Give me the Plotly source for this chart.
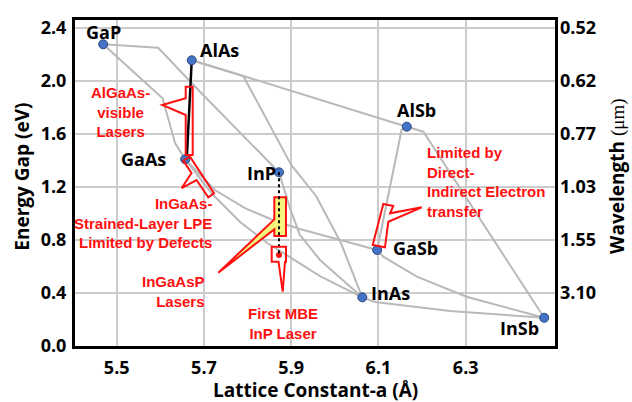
import plotly.graph_objects as go

# ---------------- data ----------------
compounds = ["GaP", "AlAs", "GaAs", "InP", "AlSb", "GaSb", "InAs", "InSb"]
lattice = [5.469, 5.672, 5.657, 5.872, 6.165, 6.097, 6.063, 6.480]
gap = [2.275, 2.154, 1.407, 1.309, 1.653, 0.722, 0.365, 0.211]

# ternary curves (lattice constant, energy gap)
gaasp_x = [5.469, 5.605, 5.634, 5.657]
gaasp_e = [2.275, 1.867, 1.528, 1.407]
gainp_x = [5.469, 5.595, 5.691, 5.783, 5.872]
gainp_e = [2.275, 2.249, 1.917, 1.605, 1.309]
algaas_x = [5.672, 5.670, 5.661, 5.657]
algaas_e = [2.154, 2.005, 1.439, 1.407]
alassb_x = [5.672, 5.790, 6.165]
alassb_e = [2.154, 2.036, 1.653]
alinas_x = [5.672, 5.790, 5.847, 5.900, 5.957, 6.014, 6.063]
alinas_e = [2.154, 2.036, 1.688, 1.364, 1.130, 0.775, 0.365]
inasp_x = [5.872, 5.881, 5.897, 5.920, 5.966, 6.023, 6.063]
inasp_e = [1.309, 1.213, 1.039, 0.836, 0.647, 0.481, 0.365]
ingaas_x = [5.657, 5.719, 5.783, 5.845, 5.897, 5.966, 6.063]
ingaas_e = [1.407, 1.145, 0.934, 0.775, 0.669, 0.526, 0.365]
gaassb_x = [5.657, 5.691, 5.725, 5.794, 5.863, 5.920, 5.989, 6.097]
gaassb_e = [1.407, 1.288, 1.175, 1.039, 0.941, 0.881, 0.820, 0.722]
algasb_x = [6.165, 6.153, 6.097]
algasb_e = [1.653, 1.628, 0.722]
alinsb_x = [6.165, 6.203, 6.480]
alinsb_e = [1.653, 1.615, 0.211]
gainsb_x = [6.097, 6.111, 6.188, 6.302, 6.480]
gainsb_e = [0.722, 0.672, 0.521, 0.370, 0.211]
inassb_x = [6.063, 6.092, 6.264, 6.480]
inassb_e = [0.365, 0.330, 0.262, 0.211]

mbe_laser_x = [5.872]
mbe_laser_e = [0.6845]

x_ticks = [5.5, 5.7, 5.9, 6.1, 6.3]
x_ticklabels = ["5.5", "5.7", "5.9", "6.1", "6.3"]
e_ticks = [0.0, 0.4, 0.8, 1.2, 1.6, 2.0, 2.4]
e_ticklabels = ["0.0", "0.4", "0.8", "1.2", "1.6", "2.0", "2.4"]
wl_ticks = [0.4, 0.8, 1.2, 1.6, 2.0, 2.4]
wl_ticklabels = ["3.10", "1.55", "1.03", "0.77", "0.62", "0.52"]

# ---------------- figure ----------------
GRAY = "#b9b9b9"
RED = "#ff1010"
fig = go.Figure()

gray_curves = [
    (gaasp_x, gaasp_e), (gainp_x, gainp_e), (alassb_x, alassb_e),
    (alinas_x, alinas_e), (inasp_x, inasp_e), (ingaas_x, ingaas_e),
    (gaassb_x, gaassb_e), (algasb_x, algasb_e), (alinsb_x, alinsb_e),
    (gainsb_x, gainsb_e), (inassb_x, inassb_e),
]
for cx, ce in gray_curves:
    fig.add_trace(go.Scatter(x=cx, y=ce, mode="lines",
                             line=dict(color=GRAY, width=2),
                             hoverinfo="skip", showlegend=False))

fig.add_trace(go.Scatter(x=algaas_x, y=algaas_e, mode="lines",
                         line=dict(color="black", width=2.5),
                         showlegend=False))

fig.add_trace(go.Scatter(x=mbe_laser_x, y=mbe_laser_e, mode="markers",
                         marker=dict(size=6, color=RED), showlegend=False))

fig.add_trace(go.Scatter(x=lattice, y=gap, mode="markers",
                         marker=dict(size=9, color="#4472c4",
                                     line=dict(color="#2b4a7d", width=1)),
                         showlegend=False))

# dummy trace for the right axis
fig.add_trace(go.Scatter(x=[None], y=[None], yaxis="y2", showlegend=False))


def path(pts):
    return "M " + " L ".join(f"{px},{py}" for px, py in pts) + " Z"


shapes = []
# AlGaAs visible lasers callout
shapes.append(dict(type="path", xref="x", yref="y", layer="above",
                   path=path([(5.6582, 1.9547), (5.6742, 1.9547), (5.6742, 1.4392),
                              (5.6582, 1.4392), (5.6582, 1.7411), (5.6045, 1.8166),
                              (5.6582, 1.8672)]),
                   line=dict(color=RED, width=2)))
# InGaAs strained layer callout
shapes.append(dict(type="path", xref="x", yref="y", layer="above",
                   path=path([(5.6527, 1.3962), (5.668, 1.4264), (5.723, 1.1502),
                              (5.71, 1.12), (5.6829, 1.2506), (5.649, 1.1902),
                              (5.6715, 1.3034)]),
                   line=dict(color=RED, width=2)))
# InGaAsP lasers callout (yellow)
shapes.append(dict(type="path", xref="x", yref="y", layer="above",
                   path=path([(5.8613, 1.12), (5.8881, 1.12), (5.8881, 0.8279),
                              (5.8613, 0.8279), (5.8613, 0.8781), (5.7329, 0.551),
                              (5.8613, 0.9536)]),
                   fillcolor="#f4f47c", line=dict(color=RED, width=2)))
# dotted lattice-matched line from InP
shapes.append(dict(type="line", xref="x", yref="y", layer="above",
                   x0=lattice[3], y0=gap[3], x1=mbe_laser_x[0], y1=mbe_laser_e[0],
                   line=dict(color="black", width=2, dash="dot")))
# First MBE InP laser callout
shapes.append(dict(type="path", xref="x", yref="y", layer="above",
                   path=path([(5.8553, 0.7472), (5.8881, 0.7472), (5.8881, 0.634),
                              (5.8858, 0.634), (5.8805, 0.4076), (5.8709, 0.634),
                              (5.8553, 0.634)]),
                   line=dict(color=RED, width=2)))
# Direct-indirect callout
shapes.append(dict(type="path", xref="x", yref="y", layer="above",
                   path=path([(6.0868, 0.76), (6.1111, 1.0694), (6.134, 1.0543),
                              (6.1265, 0.9992), (6.1992, 1.0445), (6.1226, 0.9359),
                              (6.115, 0.7426)]),
                   line=dict(color=RED, width=2)))

LBL = dict(family="Open Sans", size=18, color="black", weight="bold")
REDF = dict(family="Liberation Sans", size=15, color=RED, weight="bold")

annotations = []
label_pos = {
    "GaP": (5.4693, 2.37, "center"),
    "AlAs": (5.7352, 2.232, "center"),
    "GaAs": (5.561, 1.407, "center"),
    "InP": (5.8319, 1.306, "center"),
    "AlSb": (6.1868, 1.779, "center"),
    "GaSb": (6.1838, 0.735, "center"),
    "InAs": (6.1283, 0.40, "center"),
    "InSb": (6.424, 0.131, "center"),
}
for name in compounds:
    lx, ly, anc = label_pos[name]
    annotations.append(dict(x=lx, y=ly, xref="x", yref="y", text=name,
                            showarrow=False, font=LBL, xanchor=anc, yanchor="middle"))

red_texts = [
    ("AlGaAs-<br>visible<br>Lasers", 5.5076, 1.764, "center"),
    ("InGaAs-<br>Strained-Layer LPE<br>Limited by Defects", 5.723, 0.926, "right"),
    ("InGaAsP<br>Lasers", 5.7081, 0.413, "right"),
    ("First MBE<br>InP Laser", 5.8812, 0.169, "center"),
    ("Limited by<br>Direct-<br>Indirect Electron<br>transfer", 6.2067, 1.238, "left"),
]
for t, tx, ty, anc in red_texts:
    annotations.append(dict(x=tx, y=ty, xref="x", yref="y", text=t, showarrow=False,
                            font=REDF, xanchor=anc, yanchor="middle", align=anc))

TITLE = dict(family="Open Sans", size=19, color="black", weight="bold")
annotations.append(dict(x=-0.11, y=0.52, xref="paper", yref="paper",
                        text="Energy Gap (eV)", textangle=-90, showarrow=False,
                        font=TITLE, xanchor="center", yanchor="middle"))
annotations.append(dict(x=0.50, y=-0.135, xref="paper", yref="paper",
                        text="Lattice Constant-a (Å)", showarrow=False,
                        font=TITLE, xanchor="center", yanchor="middle"))
annotations.append(dict(x=1.13, y=0.52, xref="paper", yref="paper",
                        text="Wavelength <span style='font-family:Liberation Serif;font-weight:normal'>(μm)</span>",
                        textangle=-90, showarrow=False,
                        font=TITLE, xanchor="center", yanchor="middle"))

TICKF = dict(family="Open Sans", size=18, color="black", weight="bold")
yr = [-0.002, 2.458]
fig.update_layout(
    width=632, height=402,
    margin=dict(l=75, r=77, t=20, b=56),
    paper_bgcolor="white", plot_bgcolor="white",
    showlegend=False,
    shapes=shapes,
    annotations=annotations,
    xaxis=dict(range=[5.4044, 6.5047], tickvals=x_ticks, ticktext=x_ticklabels,
               showgrid=True, gridcolor="#cccccc", gridwidth=1.5,
               showline=True, linecolor="black", linewidth=3, mirror=True,
               ticks="", zeroline=False, tickfont=TICKF, ticklabelstandoff=3),
    yaxis=dict(range=yr, tickvals=e_ticks, ticktext=e_ticklabels,
               showgrid=True, gridcolor="#cccccc", gridwidth=1.5,
               showline=True, linecolor="black", linewidth=3, mirror=True,
               ticks="", zeroline=False, tickfont=TICKF, ticklabelstandoff=2),
    yaxis2=dict(range=yr, tickvals=wl_ticks, ticktext=wl_ticklabels,
                overlaying="y", side="right", showgrid=False, showline=False,
                ticks="", zeroline=False, tickfont=TICKF, ticklabelstandoff=4),
)

fig.write_html("out.html")
